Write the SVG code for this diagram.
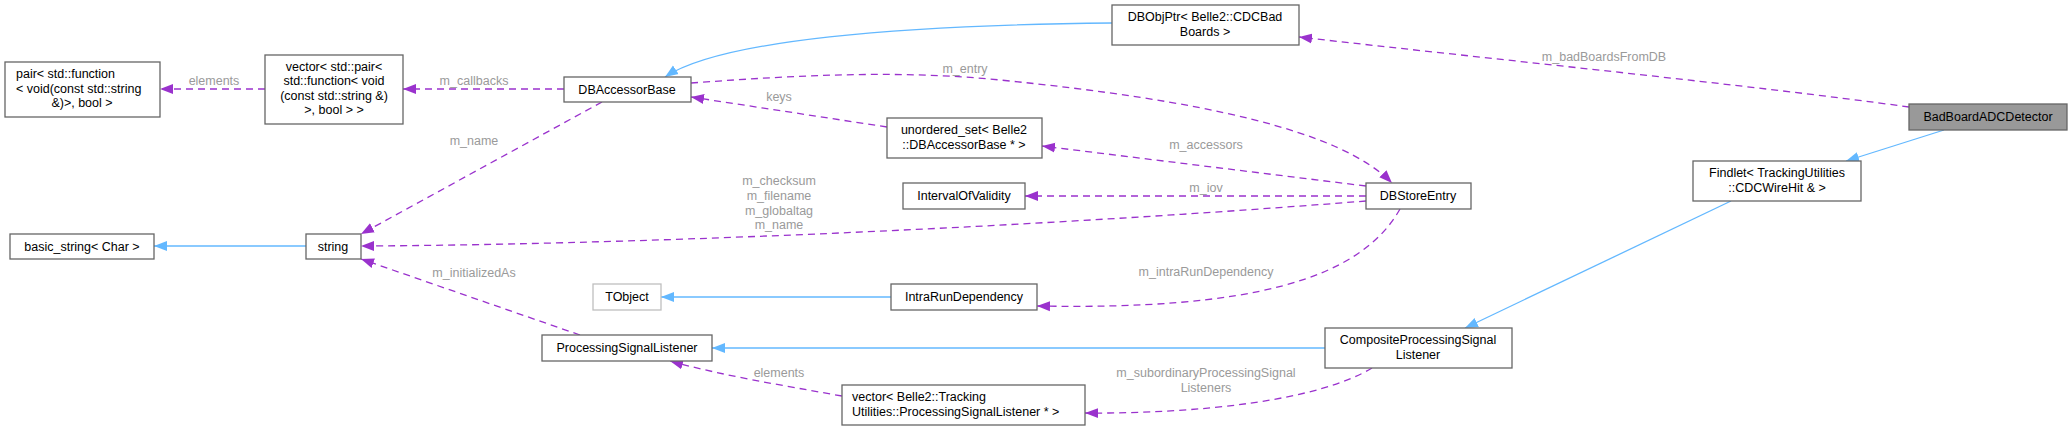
<svg xmlns="http://www.w3.org/2000/svg" width="2072" height="431" viewBox="0 0 2072 431">
<style>
.n rect{fill:#fff;stroke:#666;stroke-width:1.3}
.n text,.lbl{font-family:"Liberation Sans",Arial,sans-serif;font-size:12.5px;text-anchor:middle}
.n text{fill:#000}
.lbl{fill:#9a9a9a}
.d{fill:none;stroke:#9a32cd;stroke-width:1.3;stroke-dasharray:7,5}
.b{fill:none;stroke:#63b8ff;stroke-width:1.3}
</style>
<defs>
<marker id="mp" markerUnits="userSpaceOnUse" markerWidth="14" markerHeight="12" refX="13" refY="6" orient="auto"><path d="M0,1 L13,6 L0,11 Z" fill="#9a32cd"/></marker>
<marker id="mb" markerUnits="userSpaceOnUse" markerWidth="14" markerHeight="12" refX="13" refY="6" orient="auto"><path d="M0,1 L13,6 L0,11 Z" fill="#63b8ff"/></marker>
</defs>
<g id="connectors">
<path class="d" marker-end="url(#mp)" d="M1909,107 C1750,85 1500,60 1299,37"/>
<path class="b" marker-end="url(#mb)" d="M1944,130 L1846,161"/>
<path class="b" marker-end="url(#mb)" d="M1731,201 L1465,328"/>
<path class="b" marker-end="url(#mb)" d="M1325,348 L712,348"/>
<path class="b" marker-end="url(#mb)" d="M1112,23 C900,25 720,40 665,77"/>
<path class="d" marker-end="url(#mp)" d="M691,83 C800,75 900,70 1000,80 C1200,100 1340,130 1392,183"/>
<path class="d" marker-end="url(#mp)" d="M887,127 L691,97"/>
<path class="d" marker-end="url(#mp)" d="M1366,186 L1042,146"/>
<path class="d" marker-end="url(#mp)" d="M1366,196 L1025,196"/>
<path class="d" marker-end="url(#mp)" d="M1366,201 C1000,230 600,245 361,246"/>
<path class="d" marker-end="url(#mp)" d="M1400,209 C1360,280 1250,310 1037,306"/>
<path class="b" marker-end="url(#mb)" d="M891,297 L661,297"/>
<path class="d" marker-end="url(#mp)" d="M602,102 L361,234"/>
<path class="d" marker-end="url(#mp)" d="M265,89 L160,89"/>
<path class="d" marker-end="url(#mp)" d="M564,89 L403,89"/>
<path class="b" marker-end="url(#mb)" d="M306,246 L154,246"/>
<path class="d" marker-end="url(#mp)" d="M580,335 L361,259"/>
<path class="d" marker-end="url(#mp)" d="M842,396 C780,385 720,375 670,361"/>
<path class="d" marker-end="url(#mp)" d="M1372,368 C1320,400 1200,414 1085,413"/>
<text class="lbl" x="1604" y="61">m_badBoardsFromDB</text>
<text class="lbl" x="965" y="73">m_entry</text>
<text class="lbl" x="779" y="101">keys</text>
<text class="lbl" x="1206" y="149">m_accessors</text>
<text class="lbl" x="1206" y="192">m_iov</text>
<text class="lbl" x="779" y="185">m_checksum</text>
<text class="lbl" x="779" y="200">m_filename</text>
<text class="lbl" x="779" y="215">m_globaltag</text>
<text class="lbl" x="779" y="229">m_name</text>
<text class="lbl" x="1206" y="276">m_intraRunDependency</text>
<text class="lbl" x="779" y="377">elements</text>
<text class="lbl" x="1206" y="377">m_subordinaryProcessingSignal</text>
<text class="lbl" x="1206" y="392">Listeners</text>
<text class="lbl" x="214" y="85">elements</text>
<text class="lbl" x="474" y="85">m_callbacks</text>
<text class="lbl" x="474" y="145">m_name</text>
<text class="lbl" x="474" y="277">m_initializedAs</text>
</g>
<g id="BadBoardADCDetector" class="n"><rect x="1909" y="104" width="158" height="26" style="fill:#999"/><text x="1988" y="121">BadBoardADCDetector</text></g>
<g id="DBObjPtr" class="n"><rect x="1112" y="5" width="187" height="40"/><text x="1205" y="21">DBObjPtr&lt; Belle2::CDCBad</text><text x="1205" y="36">Boards &gt;</text></g>
<g id="Findlet" class="n"><rect x="1693" y="161" width="168" height="40"/><text x="1777" y="177">Findlet&lt; TrackingUtilities</text><text x="1777" y="192">::CDCWireHit &amp; &gt;</text></g>
<g id="CompositeProcessingSignalListener" class="n"><rect x="1325" y="328" width="187" height="40"/><text x="1418" y="344">CompositeProcessingSignal</text><text x="1418" y="359">Listener</text></g>
<g id="DBStoreEntry" class="n"><rect x="1366" y="183" width="105" height="26"/><text x="1418" y="200">DBStoreEntry</text></g>
<g id="DBAccessorBase" class="n"><rect x="564" y="77" width="127" height="25"/><text x="627" y="94">DBAccessorBase</text></g>
<g id="unordered_set" class="n"><rect x="887" y="118" width="155" height="40"/><text x="964" y="134">unordered_set&lt; Belle2</text><text x="964" y="149">::DBAccessorBase * &gt;</text></g>
<g id="IntervalOfValidity" class="n"><rect x="903" y="183" width="122" height="26"/><text x="964" y="200">IntervalOfValidity</text></g>
<g id="IntraRunDependency" class="n"><rect x="891" y="284" width="146" height="26"/><text x="964" y="301">IntraRunDependency</text></g>
<g id="vector_listeners" class="n"><rect x="842" y="385" width="243" height="40"/><text x="852" y="401" style="text-anchor:start">vector&lt; Belle2::Tracking</text><text x="852" y="416" style="text-anchor:start">Utilities::ProcessingSignalListener * &gt;</text></g>
<g id="TObject" class="n"><rect x="593" y="284" width="68" height="26" style="stroke:#bfbfbf"/><text x="627" y="301">TObject</text></g>
<g id="ProcessingSignalListener" class="n"><rect x="542" y="335" width="170" height="26"/><text x="627" y="352">ProcessingSignalListener</text></g>
<g id="string" class="n"><rect x="306" y="234" width="55" height="25"/><text x="333" y="251">string</text></g>
<g id="basic_string" class="n"><rect x="10" y="234" width="144" height="25"/><text x="82" y="251">basic_string&lt; Char &gt;</text></g>
<g id="vector_pair" class="n"><rect x="265" y="55" width="138" height="69"/><text x="334" y="71">vector&lt; std::pair&lt;</text><text x="334" y="85">std::function&lt; void</text><text x="334" y="100">(const std::string &amp;)</text><text x="334" y="114">&gt;, bool &gt; &gt;</text></g>
<g id="pair" class="n"><rect x="5" y="62" width="155" height="55"/><text x="16" y="78" style="text-anchor:start">pair&lt; std::function</text><text x="16" y="93" style="text-anchor:start">&lt; void(const std::string</text><text x="82" y="107">&amp;)&gt;, bool &gt;</text></g>
</svg>
